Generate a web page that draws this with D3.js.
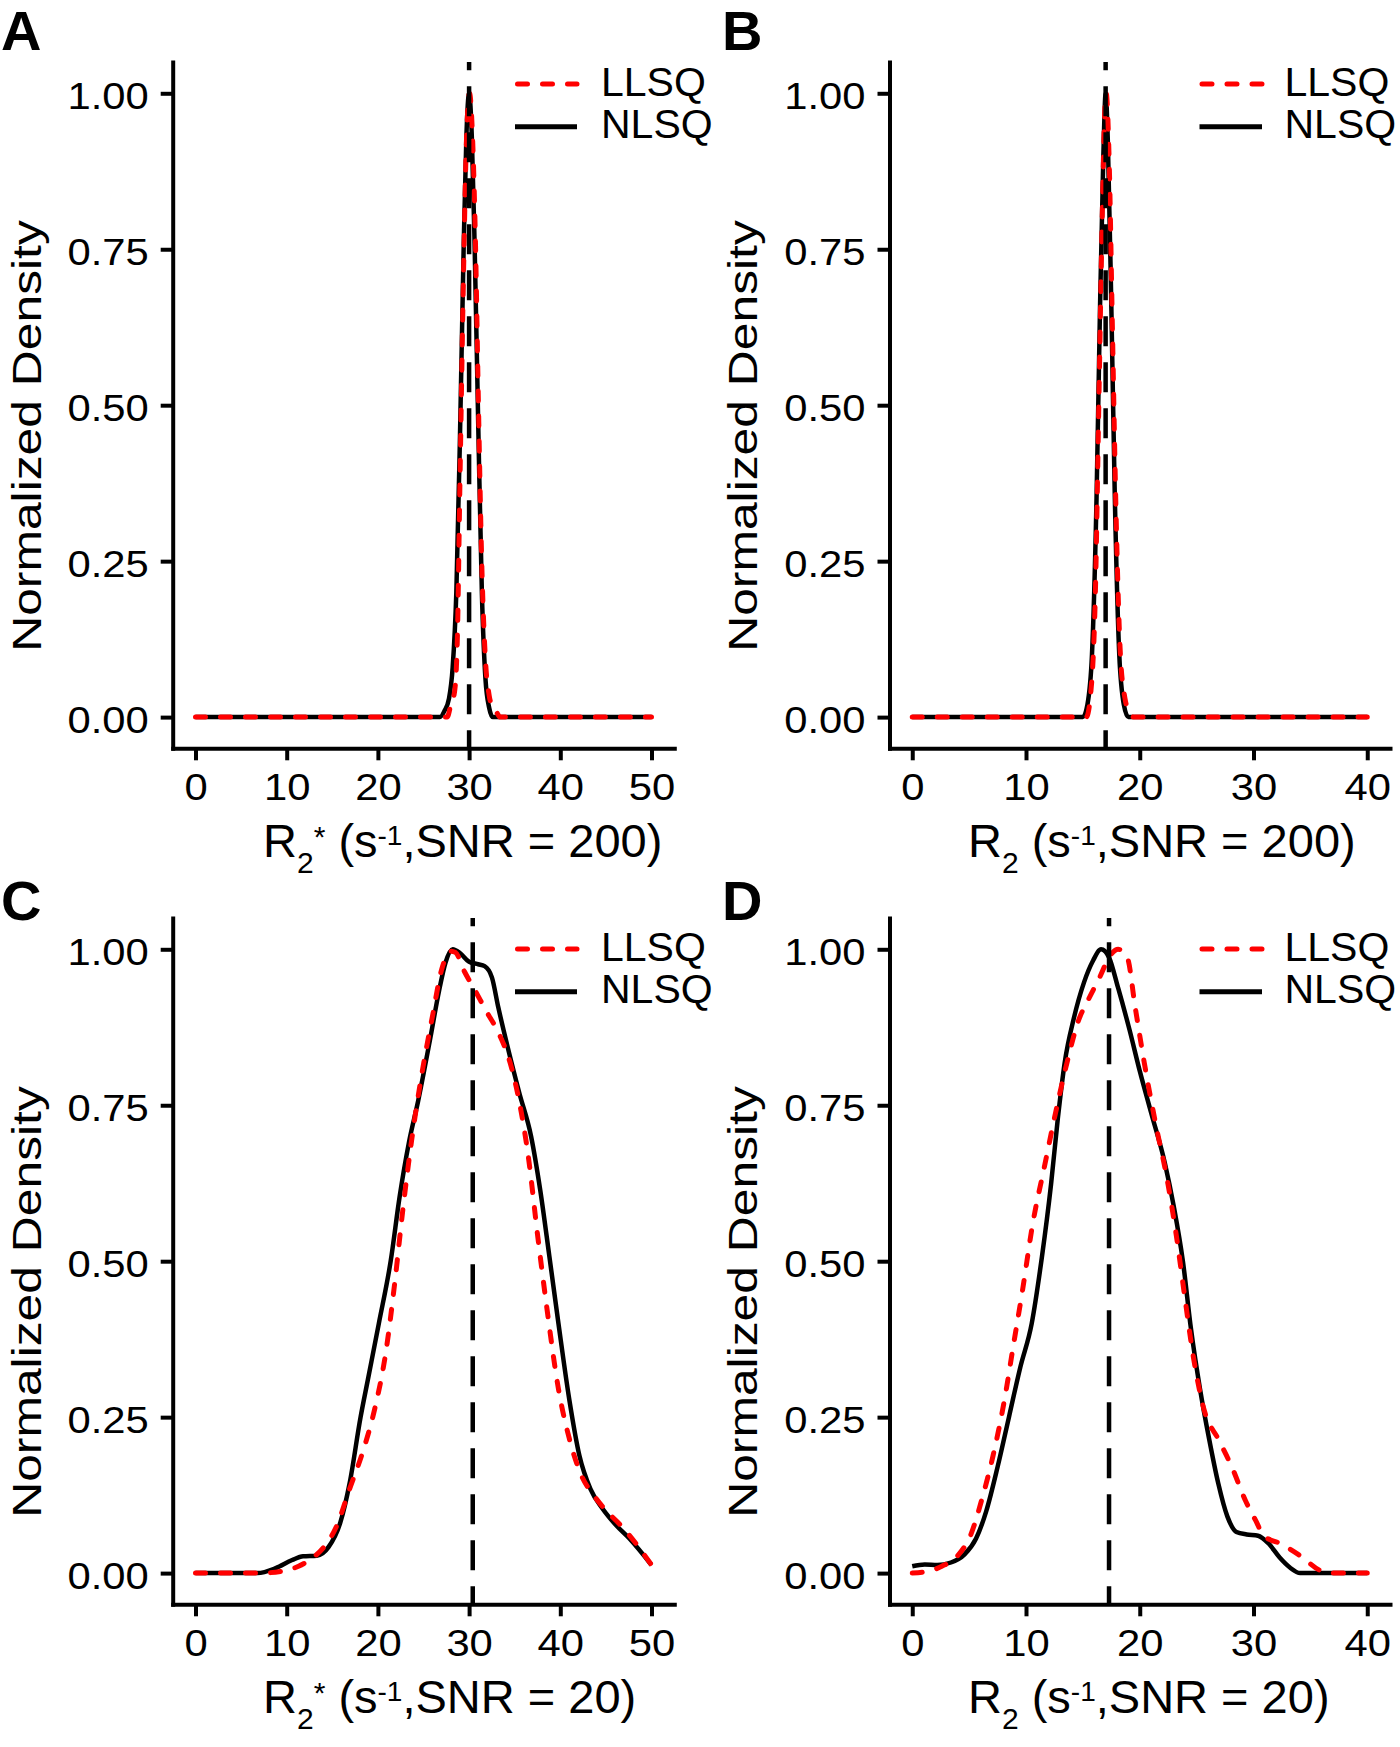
<!DOCTYPE html>
<html>
<head>
<meta charset="utf-8">
<script src="https://cdn.jsdelivr.net/npm/d3@7"></script>
<style>
  body { margin: 0; background: #fff; }
  text { font-family: "Liberation Sans", Arial, Helvetica, sans-serif; fill: #000; }
  .keep { white-space: pre; }
</style>
</head>
<body>
<script>
// tick values
var yTicks = [0, 0.25, 0.5, 0.75, 1];
var xTicksR2s = [0, 10, 20, 30, 40, 50];
var xTicksR2 = [0, 10, 20, 30, 40];
var seriesNames = ["LLSQ", "NLSQ"];
var trueValues = [30, 17, 30.4, 17.3];
var snrLabels = ["200", "200", "20", "20"];

// A: R2*, SNR 200
var aNlsqX = [0, 26.8, 27.3, 27.8, 28.2, 28.6, 29.0, 29.4, 29.7, 30.0, 30.3, 30.6, 31.0, 31.4, 31.8, 32.2, 32.6, 50];
var aNlsqY = [0, 0, 0.01, 0.03, 0.08, 0.2, 0.45, 0.75, 0.93, 1.0, 0.93, 0.76, 0.47, 0.2, 0.06, 0.015, 0, 0];
var aLlsqX = [0, 27.6, 28.0, 28.4, 28.7, 29.0, 29.4, 29.7, 30.05, 30.4, 30.7, 31.0, 31.4, 31.8, 32.2, 32.6, 33.0, 33.4, 50];
var aLlsqY = [0, 0, 0.02, 0.04, 0.12, 0.38, 0.72, 0.92, 1.0, 0.92, 0.76, 0.52, 0.24, 0.09, 0.035, 0.015, 0.008, 0, 0];

// B: R2, SNR 200
var bNlsqX = [0, 15.0, 15.4, 15.8, 16.2, 16.5, 16.8, 17.0, 17.2, 17.5, 17.8, 18.2, 18.6, 19.0, 40];
var bNlsqY = [0, 0, 0.02, 0.1, 0.35, 0.65, 0.9, 1.0, 0.92, 0.66, 0.36, 0.1, 0.02, 0, 0];
var bLlsqX = [0, 15.3, 15.7, 16.1, 16.4, 16.7, 16.9, 17.05, 17.3, 17.6, 17.9, 18.3, 18.7, 19.1, 19.5, 40];
var bLlsqY = [0, 0, 0.04, 0.2, 0.5, 0.8, 0.96, 1.0, 0.9, 0.62, 0.34, 0.1, 0.03, 0.008, 0, 0];

// C: R2*, SNR 20
var cNlsqX = [0, 6.8, 8.8, 10.6, 11.8, 13.3, 14.6, 15.9, 16.9, 18.1, 18.9, 20.1, 21.4, 22.4, 23.4, 24.4, 25.7, 26.7, 27.4, 28.2, 29.0, 30.0, 31.0, 31.7, 32.5, 33.2, 34.2, 35.5, 36.8, 37.8, 38.8, 39.8, 41.0, 42.1, 43.3, 44.6, 46.1, 47.6, 50];
var cNlsqY = [0, 0, 0.008, 0.021, 0.027, 0.028, 0.042, 0.082, 0.144, 0.25, 0.31, 0.40, 0.50, 0.605, 0.69, 0.756, 0.854, 0.933, 0.978, 1.0, 0.994, 0.98, 0.976, 0.973, 0.955, 0.907, 0.845, 0.77, 0.70, 0.614, 0.508, 0.40, 0.277, 0.188, 0.135, 0.104, 0.077, 0.055, 0.013];
var cLlsqX = [0, 7.0, 9.8, 11.3, 12.8, 14.1, 15.4, 16.9, 18.4, 19.6, 20.9, 21.9, 22.7, 23.7, 24.7, 26.0, 27.0, 28.0, 28.5, 29.5, 30.5, 32.0, 33.2, 34.5, 35.5, 36.5, 37.5, 38.5, 39.8, 41.0, 42.3, 43.6, 45.1, 46.6, 48.1, 50];
var cLlsqY = [0, 0, 0.004, 0.011, 0.024, 0.042, 0.073, 0.135, 0.197, 0.26, 0.357, 0.472, 0.578, 0.694, 0.79, 0.894, 0.968, 0.997, 0.995, 0.964, 0.938, 0.898, 0.867, 0.818, 0.756, 0.667, 0.543, 0.428, 0.295, 0.215, 0.157, 0.126, 0.099, 0.077, 0.051, 0.013];

// D: R2, SNR 20
var dNlsqX = [0, 1.1, 2.2, 3.4, 4.6, 5.6, 6.5, 7.5, 8.5, 9.5, 10.5, 11.4, 12.2, 12.8, 13.4, 14.2, 15.1, 15.9, 16.6, 17.3, 18.1, 19.1, 20.0, 21.0, 22.2, 23.0, 23.8, 24.5, 25.3, 26.1, 26.9, 27.7, 28.5, 29.4, 30.4, 31.3, 32.3, 33.2, 34.1, 40];
var dNlsqY = [0.011, 0.014, 0.013, 0.017, 0.030, 0.055, 0.099, 0.17, 0.25, 0.33, 0.40, 0.507, 0.623, 0.729, 0.818, 0.889, 0.947, 0.982, 1.0, 0.987, 0.938, 0.871, 0.805, 0.738, 0.658, 0.587, 0.499, 0.392, 0.295, 0.215, 0.144, 0.091, 0.066, 0.062, 0.060, 0.048, 0.025, 0.009, 0, 0];
var dLlsqX = [0, 1.45, 2.6, 4.0, 5.2, 6.1, 7.1, 8.1, 8.9, 9.7, 10.6, 11.6, 12.6, 13.6, 14.6, 15.5, 16.5, 17.3, 18.1, 18.9, 19.6, 20.4, 21.4, 22.4, 23.2, 24.0, 24.7, 25.7, 26.9, 28.1, 29.3, 30.2, 30.9, 32.4, 34.1, 35.9, 37.0, 40];
var dLlsqY = [0, 0.003, 0.011, 0.028, 0.064, 0.117, 0.188, 0.277, 0.366, 0.454, 0.561, 0.65, 0.738, 0.818, 0.885, 0.92, 0.956, 0.987, 1.0, 0.987, 0.907, 0.818, 0.72, 0.632, 0.543, 0.437, 0.348, 0.259, 0.215, 0.17, 0.116, 0.084, 0.06, 0.047, 0.028, 0.004, 0, 0];

function zipXY(xs, ys) { return xs.map(function(x, i) { return {x: x, y: ys[i]}; }); }

var width = 1400, height = 1747;
var svg = d3.select("body").append("svg")
    .attr("width", width)
    .attr("height", height);
svg.append("rect").attr("width", width).attr("height", height).attr("fill", "#fff");

var STRETCH = 1.16;   // tick labels are drawn a bit wide in the original
var dy2 = 856;        // bottom row offset

var panels = [
  {label: "A", left: 172.7, right: 674.3, top: 62.1, bottom: 748.3, xDom: [-2.5, 52.5], xTicks: xTicksR2s,
   nlsq: zipXY(aNlsqX, aNlsqY), llsq: zipXY(aLlsqX, aLlsqY), star: true,
   labelX: 1, labelY: 50, titleX: 263, titleY: 857, yTitleX: 40.7, yTitleY: 436,
   legX1: 515, legX2: 577, legTextX: 601, legY1: 84, legY2: 126.7},
  {label: "B", left: 889.5, right: 1390, top: 62.1, bottom: 748.3, xDom: [-2, 42], xTicks: xTicksR2,
   nlsq: zipXY(bNlsqX, bNlsqY), llsq: zipXY(bLlsqX, bLlsqY), star: false,
   labelX: 722, labelY: 50, titleX: 968, titleY: 857, yTitleX: 757, yTitleY: 436,
   legX1: 1199.5, legX2: 1262, legTextX: 1284.5, legY1: 84, legY2: 126.7},
  {label: "C", left: 172.7, right: 674.3, top: 62.1 + dy2, bottom: 748.3 + dy2, xDom: [-2.5, 52.5], xTicks: xTicksR2s,
   nlsq: zipXY(cNlsqX, cNlsqY), llsq: zipXY(cLlsqX, cLlsqY), star: true,
   labelX: 1, labelY: 920, titleX: 263, titleY: 857 + dy2, yTitleX: 40.7, yTitleY: 1302,
   legX1: 515, legX2: 577, legTextX: 601, legY1: 949, legY2: 991.7},
  {label: "D", left: 889.5, right: 1390, top: 62.1 + dy2, bottom: 748.3 + dy2, xDom: [-2, 42], xTicks: xTicksR2,
   nlsq: zipXY(dNlsqX, dNlsqY), llsq: zipXY(dLlsqX, dLlsqY), star: false,
   labelX: 722, labelY: 920, titleX: 968, titleY: 857 + dy2, yTitleX: 757, yTitleY: 1302,
   legX1: 1199.5, legX2: 1262, legTextX: 1284.5, legY1: 949, legY2: 991.7}
];

panels.forEach(function(p, i) {
  var x = d3.scaleLinear().domain(p.xDom).range([p.left, p.right]);
  var y = d3.scaleLinear().domain([-0.05, 1.05]).range([p.bottom, p.top]);
  var g = svg.append("g");

  var line = d3.line()
      .x(function(d) { return x(d.x); })
      .y(function(d) { return y(d.y); })
      .curve(d3.curveMonotoneX);

  // NLSQ solid black
  g.append("path")
      .datum(p.nlsq)
      .attr("d", line)
      .attr("fill", "none")
      .attr("stroke", "#000")
      .attr("stroke-width", 4.5)
      .attr("stroke-linejoin", "round");

  // LLSQ dashed red
  g.append("path")
      .datum(p.llsq)
      .attr("d", line)
      .attr("fill", "none")
      .attr("stroke", "#ff0000")
      .attr("stroke-width", 5)
      .attr("stroke-linecap", "round")
      .attr("stroke-dasharray", "10,15");

  // true value line
  g.append("line")
      .attr("x1", x(trueValues[i])).attr("x2", x(trueValues[i]))
      .attr("y1", p.bottom).attr("y2", p.top)
      .attr("stroke", "#000")
      .attr("stroke-width", 4.5)
      .attr("stroke-dasharray", "30,16")
      .attr("stroke-dashoffset", 12);

  // axes
  var yAxis = g.append("g")
      .attr("transform", "translate(" + p.left + ",0)")
      .call(d3.axisLeft(y).tickValues(yTicks).tickSize(12).tickSizeOuter(0).tickFormat(d3.format(".2f")));
  var xAxis = g.append("g")
      .attr("transform", "translate(0," + p.bottom + ")")
      .call(d3.axisBottom(x).tickValues(p.xTicks).tickSize(12).tickSizeOuter(0).tickFormat(d3.format("d")));

  [yAxis, xAxis].forEach(function(ax) {
    ax.attr("font-family", null);
    ax.select(".domain").attr("stroke-width", 4).attr("stroke-linecap", "square");
    ax.selectAll(".tick line").attr("stroke-width", 4);
    ax.selectAll(".tick text").attr("font-size", 36).attr("fill", "#000");
  });
  yAxis.selectAll(".tick text")
      .attr("x", 0).attr("dy", null)
      .attr("transform", "translate(-24,15.2) scale(" + STRETCH + ",1)");
  xAxis.selectAll(".tick text")
      .attr("y", 0).attr("dy", null)
      .attr("transform", "translate(0,51.5) scale(" + STRETCH + ",1)");

  // y title
  svg.append("text")
      .attr("transform", "translate(" + p.yTitleX + "," + p.yTitleY + ") rotate(-90) scale(1.2,1)")
      .attr("text-anchor", "middle")
      .attr("font-size", 41.5)
      .text("Normalized Density");

  // x title with sub/superscripts
  var t = svg.append("text")
      .attr("class", "keep")
      .attr("x", p.titleX).attr("y", p.titleY)
      .attr("font-size", 47);
  t.append("tspan").text("R");
  t.append("tspan").attr("font-size", 30).attr("dy", 16).text("2");
  var back = -16;
  if (p.star) {
    t.append("tspan").attr("font-size", 30).attr("dy", -26.5).text("*");
    back = 10.5;
  }
  t.append("tspan").attr("dy", back).text(" (s");
  t.append("tspan").attr("font-size", 28).attr("dy", -12).text("-1");
  t.append("tspan").attr("dy", 12).text(",SNR = " + snrLabels[i] + ")");

  // panel label
  svg.append("text")
      .attr("x", p.labelX).attr("y", p.labelY)
      .attr("font-size", 56)
      .attr("font-weight", "bold")
      .text(p.label);

  // legend
  var leg = svg.append("g");
  leg.append("line")
      .attr("x1", p.legX1 + 2.5).attr("x2", p.legX2)
      .attr("y1", p.legY1).attr("y2", p.legY1)
      .attr("stroke", "#ff0000").attr("stroke-width", 5)
      .attr("stroke-linecap", "round").attr("stroke-dasharray", "10,15");
  leg.append("line")
      .attr("x1", p.legX1).attr("x2", p.legX2)
      .attr("y1", p.legY2).attr("y2", p.legY2)
      .attr("stroke", "#000").attr("stroke-width", 5);
  leg.append("text")
      .attr("x", p.legTextX).attr("y", p.legY1 + 12)
      .attr("font-size", 41)
      .text(seriesNames[0]);
  leg.append("text")
      .attr("x", p.legTextX).attr("y", p.legY2 + 11)
      .attr("font-size", 41)
      .text(seriesNames[1]);
});
</script>
</body>
</html>
